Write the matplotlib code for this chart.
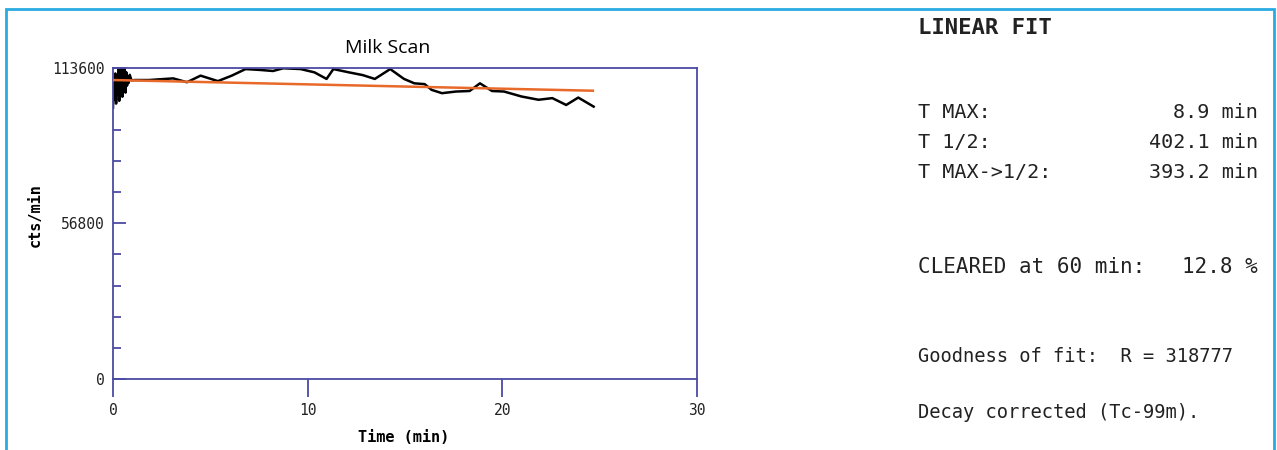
import matplotlib.pyplot as plt
from matplotlib.patches import Rectangle

# milk scan counts
time_min = [0.00, 0.04, 0.08, 0.12, 0.16, 0.20, 0.24, 0.28, 0.32, 0.36, 0.40,
            0.44, 0.48, 0.52, 0.56, 0.60, 0.64, 0.68, 0.72, 0.76, 0.80, 0.86,
            0.95, 1.14, 1.85, 3.09, 3.80, 4.50, 5.39, 6.10, 6.81, 7.52, 8.22,
            8.75, 9.64, 10.35, 10.97, 11.32, 12.12, 12.83, 13.45, 14.24, 14.95,
            15.48, 16.01, 16.37, 16.90, 17.61, 18.32, 18.85, 19.47, 20.09,
            20.98, 21.86, 22.57, 23.28, 23.90, 24.69]
counts = [99000, 108000, 102000, 111500, 100500, 109000, 104000, 113000,
          101500, 110000, 105000, 113500, 103000, 111000, 106500, 113300,
          104500, 112000, 107000, 110500, 108000, 111000, 109000, 109100,
          109100, 109700, 108300, 110700, 108700, 110700, 113100, 112800,
          112400, 113400, 113100, 111900, 109500, 113100, 111900, 110900,
          109500, 113100, 109500, 107900, 107600, 105500, 104300, 104900,
          105100, 107900, 105100, 104900, 103100, 101900, 102500, 100000,
          102700, 99400]

# linear fit line
fit_time = [0.0, 24.65]
fit_counts = [109100, 105200]

y_ticks = [0, 56800, 113600]
x_ticks = [0, 10, 20, 30]

fig = plt.figure(figsize=(12.77, 4.5), dpi=100)

# blue frame round the whole panel
fig.patches.append(Rectangle((6 / 1277, -0.05), 1268 / 1277, 1.05 - 9 / 450,
                             transform=fig.transFigure, fill=False,
                             edgecolor='#29abe2', linewidth=2))

ax = fig.add_axes([113 / 1277, 71 / 450, 584 / 1277, 311.3 / 450])
navy = '#4b4ba3'
ax.plot(time_min, counts, color='black', linewidth=1.8, zorder=2)
ax.plot(fit_time, fit_counts, color='#e8692a', linewidth=1.8, zorder=3)

ax.set_xlim(0, 30)
ax.set_ylim(0, 113600)
for s in ax.spines.values():
    s.set_color(navy)
    s.set_linewidth(1.3)

ax.set_xticks(x_ticks)
ax.set_xticklabels([str(v) for v in x_ticks], family='DejaVu Sans Mono',
                   fontsize=10.5, color='#222222')
ax.tick_params(axis='x', direction='out', length=13, width=1.3,
               color=navy, pad=4)
ax.set_yticks(y_ticks)
ax.set_yticklabels([str(v) for v in y_ticks], family='DejaVu Sans Mono',
                   fontsize=10.5, color='#222222')
ax.set_yticks([11360 * i for i in range(11)], minor=True)
ax.tick_params(axis='y', which='major', direction='in', length=9, width=1.3,
               color=navy, pad=6)
ax.tick_params(axis='y', which='minor', direction='in', length=6, width=1.3,
               color=navy)

fig.text(388 / 1277, 1 - 48 / 450, 'Milk Scan', fontsize=14,
         family='Open Sans', ha='center', va='center')
fig.text(404 / 1277, 1 - 437 / 450, 'Time (min)', fontsize=11,
         fontweight='bold', family='DejaVu Sans Mono', ha='center',
         va='center')
fig.text(35 / 1277, 1 - 215 / 450, 'cts/min', rotation=90, fontsize=11,
         fontweight='bold', family='DejaVu Sans Mono', ha='center', va='center')

# text panel on the right
mono = 'DejaVu Sans Mono'
col = '#222222'


def put(x, y, s, size, ha='left', weight='normal'):
    fig.text(x / 1277, 1 - y / 450, s, fontsize=size, family=mono, ha=ha,
             va='center', color=col, fontweight=weight)


put(918, 28, 'LINEAR FIT', 16, weight='bold')
put(918, 112, 'T MAX:', 14.5)
put(918, 143, 'T 1/2:', 14.5)
put(918, 173, 'T MAX->1/2:', 14.5)
put(1258, 112, '8.9 min', 14.5, ha='right')
put(1258, 143, '402.1 min', 14.5, ha='right')
put(1258, 173, '393.2 min', 14.5, ha='right')
put(918, 267, 'CLEARED at 60 min:', 15)
put(1258, 267, '12.8 %', 15, ha='right')
put(918, 357, 'Goodness of fit:  R = 318777', 13.5)
put(918, 413, 'Decay corrected (Tc-99m).', 13.5)

fig.savefig('out.png', dpi=100)
